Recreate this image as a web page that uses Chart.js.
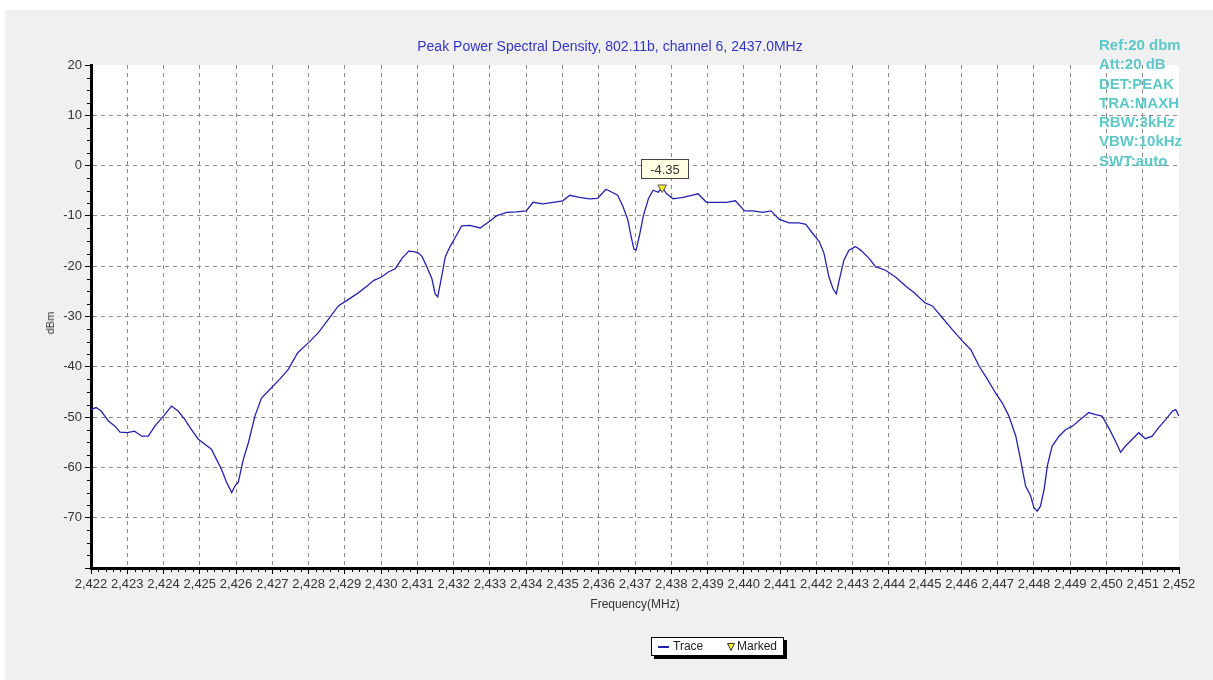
<!DOCTYPE html>
<html>
<head>
<meta charset="utf-8">
<script src="https://cdn.jsdelivr.net/npm/chart.js@4.4.1/dist/chart.umd.min.js"></script>
<style>
  html, body { margin: 0; padding: 0; background: #fff; }
  body { width: 1213px; height: 680px; position: relative; overflow: hidden; font-family: "Liberation Sans", Arial, sans-serif; }
  #c { position: absolute; left: 0; top: 0; }
  .txt { position: absolute; white-space: nowrap; }
  #title { left: 0; width: 1220px; top: 38px; text-align: center; color: #3434c4; font-size: 14px; }
  #info { left: 1099px; top: 35px; color: #5ec8c8; font-size: 15px; font-weight: bold; line-height: 19.3px; }
  #xlab { left: 0; width: 1270px; top: 597px; text-align: center; color: #333; font-size: 12px; }
  #ylab { left: 50px; top: 323px; color: #333; font-size: 11px; transform: translate(-50%, -50%) rotate(-90deg); transform-origin: center; }
  #legend { left: 651px; top: 637px; width: 131px; height: 17px; border: 1px solid #000; background: #fff; box-shadow: 3px 3px 0 #000; font-size: 12px; color: #222; }
  #legend .ln { position: absolute; left: 6px; top: 8px; width: 11px; height: 2px; background: #2020b0; }
  #legend .t1 { position: absolute; left: 21px; top: 1px; }
  #legend .tri { position: absolute; left: 75px; top: 5px; }
  #legend .t2 { position: absolute; left: 85px; top: 1px; }
</style>
</head>
<body>
<canvas id="c" width="1213" height="680"></canvas>
<div class="txt" id="title">Peak Power Spectral Density, 802.11b, channel 6, 2437.0MHz</div>
<div class="txt" id="info">Ref:20 dbm<br>Att:20 dB<br>DET:PEAK<br>TRA:MAXH<br>RBW:3kHz<br>VBW:10kHz<br>SWT:auto</div>
<div class="txt" id="xlab">Frequency(MHz)</div>
<div class="txt" id="ylab">dBm</div>
<div class="txt" id="legend"><span class="ln"></span><span class="t1">Trace</span><svg class="tri" width="8" height="8" viewBox="0 0 8 8"><polygon points="0.5,0.5 7.5,0.5 4,7.5" fill="#ffee22" stroke="#333" stroke-width="1"/></svg><span class="t2">Marked</span></div>
<script>
// ---- data ----
const freqMHz = [
  2422.00,2422.14,2422.28,2422.48,2422.66,2422.80,2423.00,2423.20,2423.40,2423.58,
  2423.76,2424.00,2424.22,2424.40,2424.59,2424.77,2424.96,2425.14,2425.32,2425.46,
  2425.60,2425.74,2425.88,2425.97,2426.06,2426.20,2426.34,2426.52,2426.70,2426.93,
  2427.20,2427.44,2427.70,2428.00,2428.27,2428.54,2428.82,2429.10,2429.37,2429.62,
  2429.80,2430.00,2430.21,2430.39,2430.58,2430.76,2430.90,2431.03,2431.13,2431.26,
  2431.40,2431.49,2431.56,2431.63,2431.77,2431.90,2432.09,2432.22,2432.45,2432.73,
  2433.00,2433.18,2433.46,2433.73,2434.00,2434.19,2434.46,2434.74,2435.01,2435.20,
  2435.47,2435.75,2435.97,2436.20,2436.39,2436.52,2436.66,2436.80,2436.89,2436.97,
  2437.03,2437.12,2437.23,2437.37,2437.50,2437.64,2437.75,2437.87,2438.05,2438.33,
  2438.56,2438.74,2438.97,2439.24,2439.52,2439.77,2440.02,2440.25,2440.52,2440.75,
  2440.98,2441.25,2441.53,2441.71,2441.89,2442.08,2442.21,2442.35,2442.46,2442.55,
  2442.63,2442.76,2442.90,2443.08,2443.22,2443.45,2443.63,2443.91,2444.19,2444.47,
  2444.70,2445.00,2445.20,2445.48,2445.75,2446.03,2446.26,2446.49,2446.72,2446.94,
  2447.13,2447.31,2447.50,2447.63,2447.77,2447.91,2448.00,2448.09,2448.18,2448.28,
  2448.37,2448.50,2448.69,2448.87,2449.06,2449.28,2449.51,2449.70,2449.88,2450.06,
  2450.25,2450.39,2450.52,2450.71,2450.89,2451.07,2451.26,2451.44,2451.63,2451.82,
  2451.91,2452.00
];
const levelDbm = [
  -48.5,-48.1,-48.8,-50.8,-51.8,-53.0,-53.1,-52.8,-53.8,-53.8,
  -51.8,-49.8,-47.8,-48.8,-50.5,-52.5,-54.4,-55.4,-56.4,-58.4,
  -60.4,-63.0,-65.0,-63.7,-63.0,-58.4,-55.1,-49.8,-46.2,-44.5,
  -42.5,-40.5,-37.2,-35.2,-33.2,-30.6,-27.9,-26.6,-25.3,-23.9,
  -22.8,-22.2,-21.1,-20.5,-18.4,-17.0,-17.1,-17.4,-18.1,-20.1,
  -22.5,-25.5,-26.1,-23.5,-18.1,-16.1,-13.7,-12.0,-11.9,-12.4,
  -11.0,-10.0,-9.3,-9.2,-9.0,-7.3,-7.6,-7.3,-7.0,-5.9,
  -6.3,-6.6,-6.5,-4.7,-5.4,-5.9,-8.0,-10.7,-14.0,-16.6,
  -16.8,-14.0,-10.0,-6.6,-4.9,-5.3,-4.35,-5.6,-6.6,-6.3,
  -5.9,-5.6,-7.3,-7.3,-7.3,-7.0,-9.0,-9.0,-9.3,-9.0,
  -10.7,-11.4,-11.4,-11.7,-13.4,-15.1,-17.4,-22.2,-24.5,-25.5,
  -22.8,-18.8,-16.8,-16.1,-16.8,-18.4,-20.1,-20.8,-22.2,-24.0,
  -25.3,-27.3,-27.9,-30.3,-32.6,-34.9,-36.6,-39.9,-42.5,-45.2,
  -47.2,-49.8,-53.8,-58.4,-63.7,-65.7,-68.0,-68.7,-67.7,-64.4,
  -59.7,-55.8,-53.8,-52.5,-51.8,-50.5,-49.1,-49.5,-49.8,-52.1,
  -54.8,-57.0,-55.8,-54.4,-53.1,-54.3,-53.8,-52.1,-50.5,-48.8,
  -48.5,-49.8
];
const markerFreq = [2437.75];
const markerLevel = [-4.35];
const markerLabels = ["-4.35"];
const xTickRange = [2422, 2452];
const yTickRange = [-80, 20];

// ---- build ----
const traceData = freqMHz.map((f, i) => ({ x: f, y: levelDbm[i] }));
const markData = markerFreq.map((f, i) => ({ x: f, y: markerLevel[i] }));

const bgPlugin = {
  id: 'bg',
  beforeDraw(chart) {
    const ctx = chart.ctx, a = chart.chartArea;
    ctx.save();
    ctx.fillStyle = '#ffffff';
    ctx.fillRect(0, 0, chart.width, chart.height);
    ctx.fillStyle = '#f0f0f0';
    ctx.fillRect(5, 10, chart.width - 5, chart.height - 10);
    ctx.fillStyle = '#ffffff';
    ctx.fillRect(a.left, a.top, a.right - a.left, a.bottom - a.top);
    ctx.restore();
  }
};

const minorTicks = {
  id: 'minorTicks',
  afterDraw(chart) {
    const ctx = chart.ctx, xs = chart.scales.x, ys = chart.scales.y;
    ctx.save();
    ctx.strokeStyle = '#000';
    ctx.lineWidth = 1;
    ctx.beginPath();
    for (let i = 0; i <= (xTickRange[1] - xTickRange[0]) * 5; i++) {
      if (i % 5 === 0) continue;
      const px = Math.round(xs.getPixelForValue(xTickRange[0] + i * 0.2)) + 0.5;
      ctx.moveTo(px, xs.top + 1);
      ctx.lineTo(px, xs.top + 4);
    }
    for (let i = 0; i <= (yTickRange[1] - yTickRange[0]) / 2.5; i++) {
      if (i % 4 === 0) continue;
      const py = Math.round(ys.getPixelForValue(yTickRange[0] + i * 2.5)) + 0.5;
      ctx.moveTo(ys.right - 4, py);
      ctx.lineTo(ys.right - 1, py);
    }
    ctx.stroke();
    ctx.restore();
  }
};

const markerLabel = {
  id: 'markerLabel',
  afterDatasetsDraw(chart) {
    const ctx = chart.ctx;
    const meta = chart.getDatasetMeta(1);
    meta.data.forEach((pt, i) => {
      const px = pt.x, py = pt.y;
      const w = 47, h = 19;
      const bx = Math.round(px - 21) + 0.5, by = Math.round(py - 28) + 0.5;
      ctx.save();
      ctx.fillStyle = '#ffffe4';
      ctx.strokeStyle = '#444';
      ctx.lineWidth = 1;
      ctx.fillRect(bx, by, w, h);
      ctx.strokeRect(bx, by, w, h);
      ctx.fillStyle = '#333';
      ctx.font = '13px "Liberation Sans", Arial, sans-serif';
      ctx.textAlign = 'center';
      ctx.textBaseline = 'middle';
      ctx.fillText(markerLabels[i], bx + w / 2, by + h / 2 + 1);
      ctx.restore();
    });
  }
};

Chart.defaults.font.family = '"Liberation Sans", Arial, sans-serif';
Chart.defaults.font.size = 13;
Chart.defaults.color = '#333';

const gridColor = (edgeVals) => (ctx) => {
  const v = ctx.tick ? ctx.tick.value : null;
  return edgeVals.includes(v) ? 'rgba(0,0,0,0)' : '#8a8a8a';
};

new Chart(document.getElementById('c'), {
  type: 'scatter',
  data: {
    datasets: [
      {
        label: 'Trace',
        data: traceData,
        showLine: true,
        borderColor: '#2323b0',
        borderWidth: 1.3,
        pointRadius: 0,
        tension: 0,
        order: 2
      },
      {
        label: 'Marked',
        data: markData,
        showLine: false,
        pointStyle: 'triangle',
        rotation: 180,
        pointRadius: 5,
        backgroundColor: '#ffee22',
        borderColor: '#555',
        borderWidth: 1,
        order: 1
      }
    ]
  },
  options: {
    responsive: false,
    animation: false,
    layout: { padding: { top: 65, right: 34, left: 0, bottom: 0 } },
    plugins: { legend: { display: false }, tooltip: { enabled: false }, title: { display: false } },
    scales: {
      x: {
        type: 'linear',
        min: xTickRange[0], max: xTickRange[1],
        afterFit(s) { s.height = 112; },
        ticks: {
          stepSize: 1, padding: 3, maxRotation: 0, autoSkip: false, color: '#333',
          callback: (v) => Math.round(v).toLocaleString('en-US')
        },
        grid: { color: gridColor(xTickRange), lineWidth: 1, tickLength: 6, tickColor: '#000', tickWidth: 1 },
        border: { display: true, color: '#000', width: 3, dash: [4, 4] }
      },
      y: {
        type: 'linear',
        min: yTickRange[0], max: yTickRange[1],
        afterFit(s) { s.width = 91; },
        ticks: {
          stepSize: 10, padding: 3, color: '#333',
          callback: (v) => (v === yTickRange[0] ? '' : v)
        },
        grid: { color: gridColor(yTickRange), lineWidth: 1, tickLength: 6, tickColor: '#000', tickWidth: 1 },
        border: { display: true, color: '#000', width: 3, dash: [4, 4] }
      }
    }
  },
  plugins: [bgPlugin, minorTicks, markerLabel]
});
</script>
</body>
</html>
